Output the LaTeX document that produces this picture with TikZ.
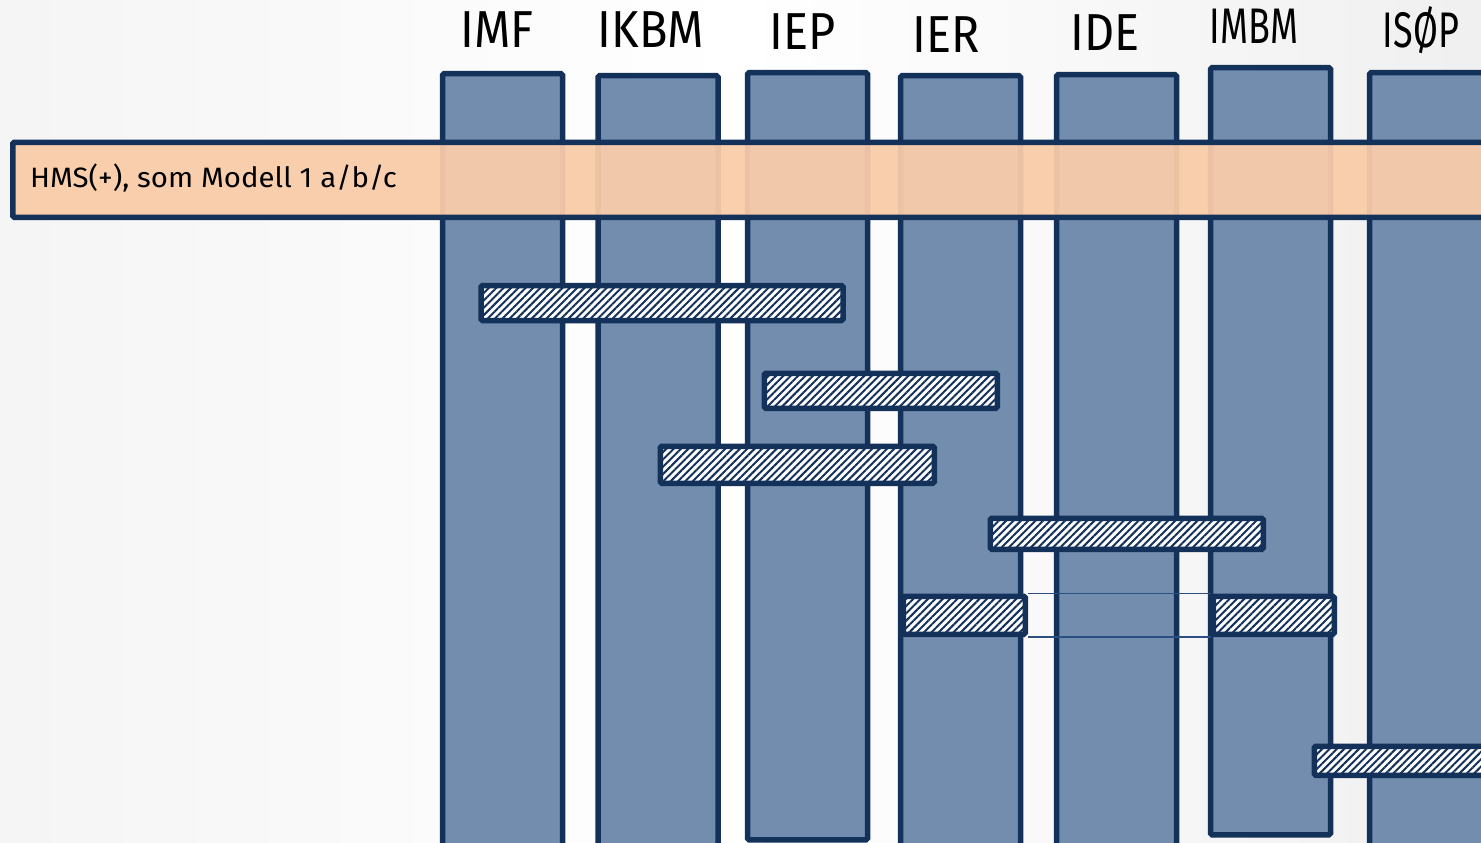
\documentclass[tikz,border=0pt]{standalone}
\usepackage{fontspec}
\setmainfont{Fira Sans}
\newfontfamily\hdrfont[FakeStretch=0.9]{Fira Sans}
\newfontfamily\hdrnarrow[FakeStretch=0.72]{Fira Sans}
\newfontfamily\hmsfont[FakeStretch=1.05]{Fira Sans}
\usetikzlibrary{patterns.meta}
\definecolor{navy}{HTML}{14315A}
\definecolor{colfill}{HTML}{738DAE}
\definecolor{hmsfill}{HTML}{F9CCA9}
\definecolor{thinblue}{HTML}{2C4E80}
\tikzset{
  col/.style={draw=navy, line width=5.5pt, fill=colfill, rounded corners=1.5pt, anchor=north, minimum width=120pt, inner sep=0pt},
  hdr/.style={font=\hdrfont\fontsize{52}{52}\selectfont, text=black, inner sep=0pt},
  hdrn/.style={font=\hdrnarrow\fontsize{50}{50}\selectfont, text=black, inner sep=0pt},
  hmsbar/.style={draw=navy, line width=5.5pt, fill=hmsfill, fill opacity=0.94, draw opacity=1, rounded corners=1.5pt, anchor=north west, minimum height=75pt, minimum width=1500pt, inner sep=0pt},
  hatch/.style={draw=navy, line width=5.5pt, rounded corners=1.5pt, preaction={fill=white}, pattern={Lines[angle=45,distance=5.2pt,line width=2pt]}, pattern color=navy, anchor=north west, inner sep=0pt},
  link/.style={draw=thinblue, line width=1.6pt}
}
\begin{document}
\begin{tikzpicture}[x=1pt,y=-1pt]
\useasboundingbox (0,0) rectangle (1481,843);
\clip (0,0) rectangle (1481,843);
\shade[left color=white!92!gray, right color=white!88!gray, middle color=white] (0,0) rectangle (1481,843);
% columns
\node[col, minimum height=800pt] (imf)  at (502.5,71) {};
\node[col, minimum height=800pt] (ikbm) at (658,73) {};
\node[col, minimum height=767pt] (iep)  at (807.5,70) {};
\node[col, minimum height=800pt] (ier)  at (960.5,73) {};
\node[col, minimum height=800pt] (ide)  at (1116.5,72) {};
\node[col, minimum height=767pt] (imbm) at (1270.5,65) {};
\node[col, minimum height=800pt] (isop) at (1429.5,70) {};
% headers
\node[hdr] (himf)  at (497,30) {IMF};
\node[hdr] (hikbm) at (651,30) {IKBM};
\node[hdr] (hiep)  at (803,32) {IEP};
\node[hdr] (hier)  at (946,35) {IER};
\node[hdr] (hide)  at (1105,33) {IDE};
\node[hdrn] (himbm) at (1254,26) {IMBM};
\node[hdrn] (hisop) at (1421,30) {ISØP};
% HMS bar
\node[hmsbar] (hms) at (10,139.5) {};
\node[anchor=west, font=\hmsfont\fontsize{28}{28}\selectfont, text=black, inner sep=0pt] (hmstext) at (30,178) {HMS(+), som Modell 1 a/b/c};
% hatched bars
\node[hatch, minimum width=362pt, minimum height=35pt] (h1) at (480,284.5) {};
\node[hatch, minimum width=233pt, minimum height=35pt] (h2) at (761.5,370.5) {};
\node[hatch, minimum width=274pt, minimum height=37pt] (h3) at (657.5,443.5) {};
\node[hatch, minimum width=273pt, minimum height=31pt] (h4) at (987.5,515.5) {};
\node[hatch, minimum width=122pt, minimum height=38pt] (h5a) at (900.5,593.5) {};
\node[hatch, minimum width=121pt, minimum height=38pt] (h5b) at (1210.5,593.5) {};
\node[hatch, minimum width=200pt, minimum height=29pt] (h6) at (1311.5,743.5) {};
% thin links of the split bar
\draw[link] (h5a.north east) -- (h5b.north west);
\draw[link] (h5a.south east) -- (h5b.south west);
\end{tikzpicture}
\end{document}
